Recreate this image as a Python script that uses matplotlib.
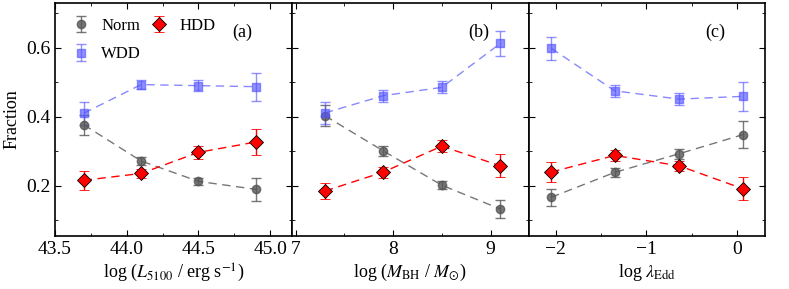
import matplotlib
matplotlib.use("Agg")
import matplotlib.pyplot as plt
from matplotlib.ticker import MultipleLocator, FormatStrFormatter

plt.rcParams['font.family'] = ['Liberation Serif', 'DejaVu Serif']
plt.rcParams['mathtext.fontset'] = 'stix'

# Panel (a): log L5100
x_a = [43.7, 44.1, 44.5, 44.9]
norm_a = [0.377, 0.272, 0.213, 0.190]
norm_a_err = [0.029, 0.011, 0.011, 0.033]
wdd_a = [0.410, 0.493, 0.490, 0.487]
wdd_a_err = [0.033, 0.013, 0.016, 0.040]
hdd_a = [0.216, 0.236, 0.297, 0.327]
hdd_a_err = [0.027, 0.014, 0.018, 0.038]

# Panel (b): log MBH
x_b = [7.3, 7.9, 8.5, 9.1]
norm_b = [0.403, 0.301, 0.202, 0.133]
norm_b_err = [0.030, 0.015, 0.012, 0.026]
wdd_b = [0.411, 0.461, 0.485, 0.612]
wdd_b_err = [0.033, 0.017, 0.017, 0.037]
hdd_b = [0.185, 0.240, 0.315, 0.258]
hdd_b_err = [0.024, 0.016, 0.017, 0.033]

# Panel (c): log lambda_Edd
x_c = [-2.05, -1.35, -0.64, 0.06]
norm_c = [0.167, 0.239, 0.293, 0.348]
norm_c_err = [0.025, 0.014, 0.015, 0.039]
wdd_c = [0.598, 0.475, 0.451, 0.459]
wdd_c_err = [0.034, 0.017, 0.017, 0.041]
hdd_c = [0.240, 0.288, 0.258, 0.192]
hdd_c_err = [0.030, 0.015, 0.015, 0.033]

xlabels = [r'log ($L_{5100}$ / erg s$^{-1}$)',
           r'log ($M_{\rm BH}$ / $M_{\odot}$)',
           r'log $\lambda_{\rm Edd}$']
panel_tags = ['(a)', '(b)', '(c)']

fig = plt.figure(figsize=(7.89, 2.89), dpi=100)
axes = fig.subplots(1, 3, sharey=True)
fig.subplots_adjust(left=0.0697, right=0.970, bottom=0.1834, top=0.9907, wspace=0)

data = [
    (x_a, norm_a, norm_a_err, wdd_a, wdd_a_err, hdd_a, hdd_a_err),
    (x_b, norm_b, norm_b_err, wdd_b, wdd_b_err, hdd_b, hdd_b_err),
    (x_c, norm_c, norm_c_err, wdd_c, wdd_c_err, hdd_c, hdd_c_err),
]
xlims = [(43.5, 45.15), (6.96, 9.39), (-2.3, 0.31)]
xmajor = [0.5, 1, 1]
xminor = [0.25, 0.5, 0.5]

for i, ax in enumerate(axes):
    x, n, ne, w, we, h, he = data[i]
    ax.errorbar(x, n, yerr=ne, fmt='o', color='#555555', alpha=0.8, ms=6,
                capsize=3.5, elinewidth=1, capthick=1, label='Norm', zorder=3)
    ax.plot(x, n, ls=(0, (6, 4)), color='#777777', lw=1, zorder=2)
    ax.errorbar(x, w, yerr=we, fmt='s', color='#5555ff', alpha=0.65, ms=6,
                capsize=3.5, elinewidth=1, capthick=1, label='WDD', zorder=3)
    ax.plot(x, w, ls=(0, (6, 4)), color='#8888ff', lw=1, zorder=2)
    ax.errorbar(x, h, yerr=he, fmt='D', color='red', mfc='red', mec='black',
                mew=0.6, ms=7.5, ecolor='red', capsize=3.5, elinewidth=1, capthick=1,
                label='HDD', zorder=4)
    ax.plot(x, h, ls=(0, (6, 4)), color='red', lw=1, zorder=2)

    ax.set_xlim(*xlims[i])
    ax.set_ylim(0.055, 0.73)
    ax.xaxis.set_major_locator(MultipleLocator(xmajor[i]))
    ax.xaxis.set_minor_locator(MultipleLocator(xminor[i]))
    ax.yaxis.set_major_locator(MultipleLocator(0.2))
    ax.yaxis.set_minor_locator(MultipleLocator(0.1))
    ax.tick_params(which='both', direction='in', top=True, right=True, labelsize=14)
    ax.tick_params(which='major', length=4)
    ax.tick_params(which='minor', length=2.5)
    ax.set_xlabel(xlabels[i], fontsize=13, labelpad=3)
    ax.text(0.79, 0.875, panel_tags[i], transform=ax.transAxes, fontsize=13,
            ha='center', va='center')
    for sp in ax.spines.values():
        sp.set_linewidth(1.2)

axes[0].xaxis.set_major_formatter(FormatStrFormatter('%.1f'))
axes[0].yaxis.set_major_formatter(FormatStrFormatter('%.1f'))
axes[0].set_ylabel('Fraction', fontsize=13)

handles, labels = axes[0].get_legend_handles_labels()
axes[0].legend(handles, labels, loc='upper left', ncol=2, frameon=False,
               numpoints=1, fontsize=12, handlelength=1.2, handletextpad=0.6,
               columnspacing=0.5, labelspacing=0.75,
               borderaxespad=0.3, bbox_to_anchor=(0.02, 0.985))

fig.savefig('out.png', dpi=100)
